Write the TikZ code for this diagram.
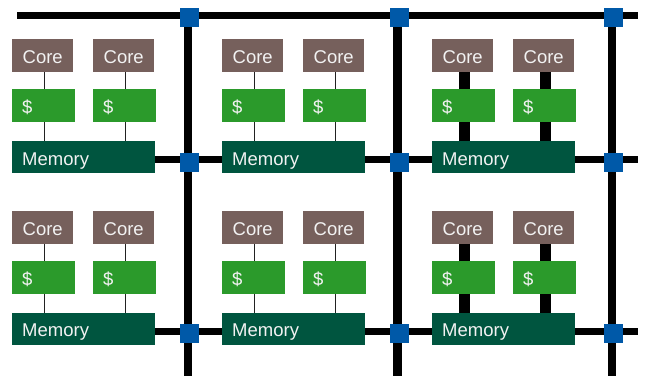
\documentclass[tikz,border=0pt]{standalone}
\usepackage{fontspec}
\setmainfont{Liberation Sans}
\definecolor{corefill}{HTML}{76605C}
\definecolor{cachefill}{HTML}{2B9A2B}
\definecolor{memfill}{HTML}{00553F}
\definecolor{routerfill}{HTML}{0059A8}
\definecolor{labeltext}{HTML}{F2F2F2}
\definecolor{wire}{HTML}{222222}
\tikzset{
  box/.style={draw=none, inner ysep=0pt, text=labeltext, text height=16.3pt, text depth=0pt,
    font=\fontsize{18.5}{20}\selectfont, anchor=north west},
  corebox/.style={box, fill=corefill, minimum width=61pt, minimum height=33pt, inner xsep=0pt},
  cachebox/.style={box, fill=cachefill, text width=43pt, align=left, inner xsep=10pt, minimum height=33pt},
  membox/.style={box, fill=memfill, text width=123pt, align=left, inner xsep=10pt, minimum height=32pt},
  router/.style={fill=routerfill, draw=none, minimum size=19pt, inner sep=0pt},
  hlink/.style={line width=7pt, black},
  vlink/.style={line width=8.5pt, black},
  thinwire/.style={line width=0.9pt, wire},
  thickwire/.style={line width=11pt, black},
}
\begin{document}
\begin{tikzpicture}[x=1pt, y=-1pt]
\useasboundingbox (0,0) rectangle (646,376);

% mesh links: one horizontal bus on top and one per memory row, three vertical buses
\coordinate (h0w) at (17,15.7);  \coordinate (h0e) at (638,15.7);
\coordinate (h1w) at (155,159.7); \coordinate (h1e) at (638,159.7);
\coordinate (h2w) at (155,331);  \coordinate (h2e) at (638,331);
\draw[hlink] (h0w) -- (h0e);
\draw[hlink] (h1w) -- (h1e);
\draw[hlink] (h2w) -- (h2e);
\foreach \i/\x in {1/188, 2/397.5, 3/612} {
  \coordinate (v\i n) at (\x,15.7);
  \coordinate (v\i s) at (\x,376);
  \draw[vlink] (v\i n) -- (v\i s);
}

% routers at the crossings
\foreach \i/\x in {1/189.5, 2/399.5, 3/613.5} {
  \node[router] (r0\i) at (\x,17.8) {};
  \node[router] (r1\i) at (\x,162) {};
  \node[router] (r2\i) at (\x,333) {};
}

% tiles: two cores with private caches over a shared memory
\foreach \c/\x in {1/12, 2/222, 3/432} {
  \foreach \r/\y in {1/39, 2/210.5} {
    \node[corebox]  (ca\r\c) at (\x,\y) {Core};
    \node[corebox]  (cb\r\c) at (\x+81,\y) {Core};
    \node[cachebox] (sa\r\c) at (\x,\y+50) {\$};
    \node[cachebox] (sb\r\c) at (\x+81,\y+50) {\$};
    \node[membox]   (m\r\c)  at (\x,\y+102) {Memory};
  }
}

% core-cache-memory wires; the right column uses wide links
\foreach \c/\w in {1/thinwire, 2/thinwire, 3/thickwire} {
  \foreach \r in {1,2} {
    \foreach \k in {a,b} {
      \draw[\w] ([xshift=1.5pt]c\k\r\c.south) -- ([xshift=1.5pt]c\k\r\c.south |- s\k\r\c.north);
      \draw[\w] ([xshift=1.5pt]c\k\r\c.south |- s\k\r\c.south) -- ([xshift=1.5pt]c\k\r\c.south |- m\r\c.north);
    }
  }
}
\end{tikzpicture}
\end{document}
